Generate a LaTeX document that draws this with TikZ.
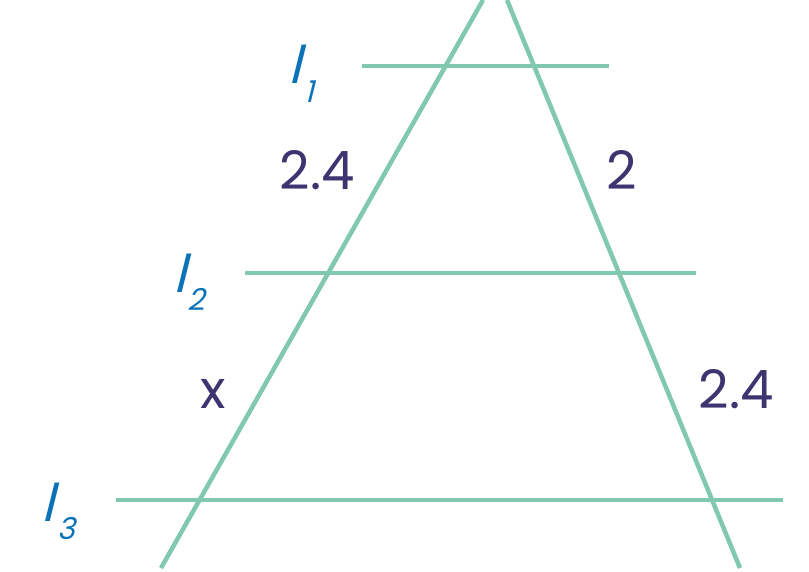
\documentclass[tikz,border=0pt]{standalone}
\usepackage{fontspec}
\setmainfont{Poppins}
\newfontfamily\slfont{Poppins}[FakeSlant=0.25]
\definecolor{lgreen}{HTML}{80C8AE}
\definecolor{dpurple}{HTML}{3D3470}
\definecolor{lblue}{HTML}{0A72B8}
\begin{document}
\begin{tikzpicture}[x=1pt,y=-1pt,
  ln/.style={draw=lgreen,line width=4.5pt},
  num/.style={text=dpurple,font=\fontsize{53}{56}\selectfont,inner sep=0pt,anchor=base},
  lab/.style={text=lblue,font=\slfont\fontsize{52}{56}\selectfont,inner sep=0pt,anchor=base},
  sub/.style={text=lblue,font=\slfont\fontsize{30}{32}\selectfont,inner sep=0pt,anchor=base}]
\useasboundingbox (0,0) rectangle (809,572);
\clip (0,0) rectangle (809,572);
\coordinate (a1) at (161,568); \coordinate (a2) at (483,0);
\coordinate (b1) at (507,0); \coordinate (b2) at (740,568);
\coordinate (h1a) at (362,66); \coordinate (h1b) at (609,66);
\coordinate (h2a) at (245,273); \coordinate (h2b) at (696,273);
\coordinate (h3a) at (116,500); \coordinate (h3b) at (783,500);
\draw[ln] (a1) -- (a2);
\draw[ln] (b1) -- (b2);
\draw[ln] (h1a) -- (h1b);
\draw[ln] (h2a) -- (h2b);
\draw[ln] (h3a) -- (h3b);
\node[num] (n1) at (317,190) {2.4};
\node[num] (n2) at (622,190) {2};
\node[num] (n3) at (213,408) {x};
\node[num] (n4) at (736,408) {2.4};
\node[lab] (l1) at (295,84) {l};
\node[sub] (s1) at (309,103) {1};
\node[lab] (l2) at (180,292) {l};
\node[sub] (s2) at (196,311) {2};
\node[lab] (l3) at (48,521) {l};
\node[sub] (s3) at (66,539) {3};
\end{tikzpicture}
\end{document}
